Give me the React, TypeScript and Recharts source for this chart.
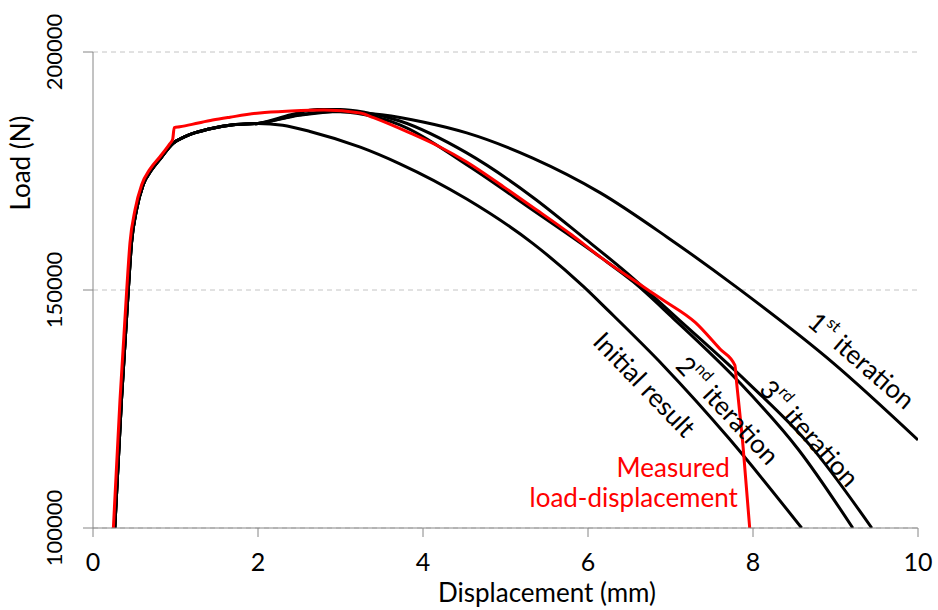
import React from 'react';
import { LineChart, Line, XAxis, YAxis, CartesianGrid, ReferenceDot, Label } from 'recharts';

const FONT = 'Lato, "Open Sans", sans-serif';

const xTicks = [0, 2, 4, 6, 8, 10];
const yTicks = [100000, 150000, 200000];

// Elastic rise and yield knee shared by every simulated curve
const riseDisp = [0.264, 0.345, 0.427, 0.467, 0.527, 0.608, 0.709, 0.83, 0.97, 1.1, 1.25, 1.45, 1.7, 2.0];
const riseLoad = [100000, 126900, 149800, 159900, 166800, 172100, 175200, 177900, 180800, 182100, 183100, 184000, 184700, 185000];

// Simulated curves after the shared rise
const initialDisp = [2.3, 2.63, 3.24, 3.72, 4.53, 5.33, 5.94, 6.25, 6.92, 7.71, 8.59];
const initialLoad = [184600, 183300, 180000, 176500, 169100, 159800, 150800, 145600, 134000, 118800, 100000];

const firstDisp = [2.5, 3.0, 3.5, 4.0, 4.53, 5.33, 6.15, 6.96, 7.8, 8.97, 10.0];
const firstLoad = [186700, 187500, 186800, 185300, 183000, 177700, 170400, 161100, 150600, 134700, 118500];

const secondDisp = [2.5, 2.9, 3.3, 3.72, 4.53, 5.33, 6.15, 6.55, 7.03, 7.84, 8.55, 9.21];
const secondLoad = [186800, 187500, 186800, 184700, 176300, 166800, 156900, 151700, 144100, 130500, 116500, 100000];

const thirdDisp = [2.4, 2.72, 3.0, 3.3, 3.72, 4.53, 5.33, 5.94, 6.47, 7.08, 7.94, 8.7, 9.44];
const thirdLoad = [186800, 187900, 187900, 187300, 185500, 178800, 169500, 161100, 153600, 144100, 130500, 117200, 100000];

// Measured test record
const measuredDisp = [0.247, 0.327, 0.408, 0.448, 0.509, 0.59, 0.691, 0.812, 0.93, 0.965, 0.985, 1.05, 1.2, 1.45, 1.66, 2.02, 2.4, 2.8, 3.24, 3.4, 3.84, 4.2, 4.53, 5.0, 5.33, 5.8, 6.15, 6.6, 6.91, 7.3, 7.6, 7.78, 7.8, 7.88, 7.96];
const measuredLoad = [100000, 126900, 149800, 159900, 166800, 172100, 175400, 178000, 180700, 181600, 184100, 184300, 184800, 185700, 186300, 187200, 187600, 187800, 187200, 186200, 183000, 180100, 176900, 171400, 167400, 161600, 156900, 151500, 147900, 143200, 137600, 134200, 130800, 117000, 100000];

const toPoints = (xs: number[], ys: number[]) => xs.map((x, i) => ({ x, y: ys[i] }));
const withRise = (xs: number[], ys: number[]) => toPoints([...riseDisp, ...xs], [...riseLoad, ...ys]);

const initialData = withRise(initialDisp, initialLoad);
const firstData = withRise(firstDisp, firstLoad);
const secondData = withRise(secondDisp, secondLoad);
const thirdData = withRise(thirdDisp, thirdLoad);
const measuredData = toPoints(measuredDisp, measuredLoad);

const AXIS_GRAY = '#868686';

const XTick = (props: any) => {
  const { x, y, payload } = props;
  return (
    <text x={x} y={y + 34} textAnchor="middle" fontFamily={FONT} fontSize={25} fill="#000">
      {payload.value}
    </text>
  );
};

const YTick = (props: any) => {
  const { x, y, payload } = props;
  return (
    <text transform={`translate(${x},${y}) rotate(-90)`} textAnchor="middle" fontFamily={FONT} fontSize={22} fill="#000">
      {payload.value}
    </text>
  );
};

const curveLabel = (main: string, sup: string, rest: string, angle: number, color = '#000') => (p: any) => (
  <text
    transform={`translate(${p.cx},${p.cy}) rotate(${angle})`}
    textAnchor="middle"
    dominantBaseline="central"
    fontFamily={FONT}
    fontSize={26}
    fill={color}
  >
    {main}
    {sup ? (
      <tspan dy={-10} fontSize={16}>
        {sup}
      </tspan>
    ) : null}
    {sup ? <tspan dy={10}>{rest}</tspan> : rest}
  </text>
);

const measuredLabel = (p: any) => (
  <text textAnchor="end" fontFamily={FONT} fontSize={26} fill="#ff0000">
    <tspan x={p.cx} y={p.cy}>Measured</tspan>
    <tspan x={p.cx + 8} y={p.cy + 30}>load-displacement</tspan>
  </text>
);

export default function App() {
  return (
    <div style={{ position: 'absolute', left: 0, top: 0, width: 938, height: 610, background: '#fff' }}>
      <LineChart width={938} height={610} margin={{ top: 52, right: 20, left: 0, bottom: 0 }}>
        <CartesianGrid vertical={false} stroke="#c4c4c4" strokeDasharray="5 4" />
        <XAxis
          dataKey="x"
          type="number"
          domain={[0, 10]}
          ticks={xTicks}
          height={82}
          allowDataOverflow
          stroke={AXIS_GRAY}
          tickSize={9}
          tickMargin={0}
          tick={<XTick />}
        >
          <Label
            content={() => (
              <text x={547} y={602} textAnchor="middle" fontFamily={FONT} fontSize={26} fill="#000">
                Displacement (mm)
              </text>
            )}
          />
        </XAxis>
        <YAxis
          type="number"
          domain={[100000, 200000]}
          ticks={yTicks}
          width={93}
          allowDataOverflow
          stroke={AXIS_GRAY}
          tickSize={10}
          tickMargin={21}
          tick={<YTick />}
        >
          <Label
            content={() => (
              <text transform="translate(30,163) rotate(-90)" textAnchor="middle" fontFamily={FONT} fontSize={26} fill="#000">
                Load (N)
              </text>
            )}
          />
        </YAxis>
        <Line data={initialData} dataKey="y" type="monotone" stroke="#000" strokeWidth={3} dot={false} isAnimationActive={false} />
        <Line data={firstData} dataKey="y" type="monotone" stroke="#000" strokeWidth={3} dot={false} isAnimationActive={false} />
        <Line data={secondData} dataKey="y" type="monotone" stroke="#000" strokeWidth={3} dot={false} isAnimationActive={false} />
        <Line data={thirdData} dataKey="y" type="monotone" stroke="#000" strokeWidth={3} dot={false} isAnimationActive={false} />
        <Line data={measuredData} dataKey="y" type="monotone" stroke="#ff0000" strokeWidth={3} dot={false} isAnimationActive={false} />
        <ReferenceDot x={6.69} y={130250} r={0} shape={curveLabel('Initial result', '', '', 46)} />
        <ReferenceDot x={7.7} y={124800} r={0} shape={curveLabel('2', 'nd', ' iteration', 47)} />
        <ReferenceDot x={8.69} y={120000} r={0} shape={curveLabel('3', 'rd', ' iteration', 48)} />
        <ReferenceDot x={9.32} y={135300} r={0} shape={curveLabel('1', 'st', ' iteration', 41)} />
        <ReferenceDot x={7.72} y={110700} r={0} shape={measuredLabel} />
      </LineChart>
    </div>
  );
}
